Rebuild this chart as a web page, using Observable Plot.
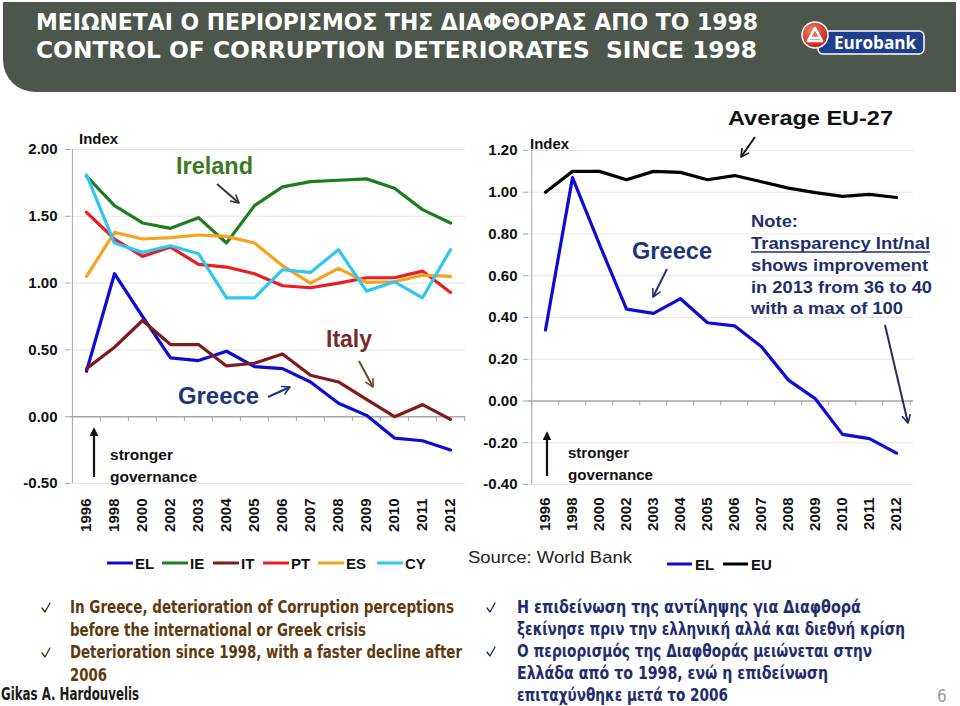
<!DOCTYPE html>
<html><head><meta charset="utf-8">
<script src="https://cdn.jsdelivr.net/npm/d3@7"></script>
<script src="https://cdn.jsdelivr.net/npm/@observablehq/plot@0.6"></script>
<style>
html,body{margin:0;padding:0;background:#fff;}
#page{position:relative;width:960px;height:706px;overflow:hidden;background:#fff;}
#hdr{position:absolute;left:3px;top:2px;width:953px;height:90px;background:#4c564c;border-bottom-left-radius:32px;}
.chart{position:absolute;top:100px;}
#left{left:0;} #right{left:470px;}
.chart svg{overflow:visible;background:transparent;}
.chart svg text{font-family:"Liberation Sans",Arial,sans-serif;font-weight:bold;font-size:15px;fill:#111;}
.chart g[aria-label="y-axis tick"] path,.chart g[aria-label="y-axis"] line{stroke:#a6a6a6;}
#ov{position:absolute;left:0;top:0;pointer-events:none;}
</style></head>
<body><div id="page"><div id="hdr"></div><div id="left" class="chart"></div><div id="right" class="chart"></div><svg id="ov" width="960" height="706"></svg></div>
<script>
// ---------- data ----------
const years = ["1996","1998","2000","2002","2003","2004","2005","2006","2007","2008","2009","2010","2011","2012"];
const seriesNames = ["EL","IE","IT","PT","ES","CY"];
const seriesColors = ["#0c0cd2","#1e7d1e","#7e1c1c","#ea1c24","#f6a21e","#2fc6ef"];
const EL = [0.34, 1.07, 0.75, 0.44, 0.42, 0.49, 0.375, 0.36, 0.26, 0.10, 0.01, -0.16, -0.18, -0.25];
const IE = [1.80, 1.58, 1.45, 1.41, 1.49, 1.30, 1.58, 1.72, 1.76, 1.77, 1.78, 1.71, 1.55, 1.45];
const IT = [0.36, 0.52, 0.72, 0.54, 0.54, 0.38, 0.40, 0.47, 0.31, 0.26, 0.13, 0.00, 0.09, -0.02];
const PT = [1.53, 1.33, 1.20, 1.27, 1.14, 1.12, 1.07, 0.98, 0.965, 1.00, 1.04, 1.04, 1.09, 0.93];
const ES = [1.05, 1.38, 1.33, 1.34, 1.36, 1.35, 1.30, 1.13, 1.00, 1.11, 1.005, 1.01, 1.06, 1.05];
const CY = [1.81, 1.30, 1.23, 1.28, 1.22, 0.89, 0.89, 1.10, 1.08, 1.25, 0.94, 1.01, 0.89, 1.25];
const EU = [1.00, 1.10, 1.10, 1.06, 1.10, 1.095, 1.06, 1.08, 1.05, 1.02, 0.998, 0.98, 0.99, 0.975];
const rightNames = ["EL","EU"];
const rightColors = ["#0c0cd2","#000000"];
const yTicksLeft = [-0.5, 0, 0.5, 1.0, 1.5, 2.0];
const yTicksRight = [-0.4, -0.2, 0, 0.2, 0.4, 0.6, 0.8, 1.0, 1.2];

const leftValues = [EL, IE, IT, PT, ES, CY];
const rightValues = [EL, EU];
const leftRows = seriesNames.flatMap((n,k)=>years.map((yr,i)=>({year:yr,value:leftValues[k][i],series:n})));
const rightRows = rightNames.flatMap((n,k)=>years.map((yr,i)=>({year:yr,value:rightValues[k][i],series:n})));

function chart(o){
  const step = (o.width - o.mL - o.mR)/years.length;
  const last = years[years.length-1];
  const dom = [o.ticks[0], o.ticks[o.ticks.length-1]];
  return Plot.plot({
    width:o.width, height:o.height, marginLeft:o.mL, marginRight:o.mR, marginTop:o.mT, marginBottom:o.mB,
    style:{background:"transparent",overflow:"visible",fontFamily:"Liberation Sans, Arial, sans-serif",fontSize:"15px",fontWeight:"bold",color:"#111"},
    x:{type:"point",domain:years,padding:0.5,tickRotate:-90,tickSize:0,tickPadding:o.xPad,label:null},
    y:{domain:dom,ticks:o.ticks,tickFormat:d=>d.toFixed(2),tickSize:5,tickPadding:o.yPad,label:null},
    color:{domain:o.names,range:o.colors},
    marks:[
      Plot.ruleY(o.ticks.filter(d=>d!==0),{stroke:"#e6e6e6",strokeWidth:1}),
      Plot.ruleY([0],{stroke:"#a6a6a6",strokeWidth:1.5}),
      Plot.ruleX(years,{x:d=>d,y1:0,y2:-o.tickLen,dx:-step/2,stroke:"#a6a6a6"}),
      Plot.ruleX([last],{x:d=>d,y1:0,y2:-o.tickLen,dx:step/2,stroke:"#a6a6a6"}),
      Plot.ruleX([years[0]],{x:d=>d,y1:dom[0],y2:dom[1],dx:-step/2,stroke:"#a6a6a6"}),
      Plot.line(o.rows,{x:"year",y:"value",z:"series",stroke:"series",strokeWidth:3.2,strokeLinejoin:"round",strokeLinecap:"round"})
    ]
  });
}
document.getElementById("left").append(chart({rows:leftRows,names:seriesNames,colors:seriesColors,ticks:yTicksLeft,
  width:470,height:440,mL:70,mR:5,mT:49,mB:57,xPad:15,yPad:8,tickLen:0.036}));
document.getElementById("right").append(chart({rows:rightRows,names:rightNames,colors:rightColors,ticks:yTicksRight,
  width:480,height:440,mL:58,mR:37,mT:50,mB:56,xPad:13,yPad:6,tickLen:0.024}));

// ---------- overlay: titles, annotations, legends, text ----------
const SANS = "Liberation Sans, Arial, sans-serif";
const NARROW = "Liberation Sans Narrow, DejaVu Sans Condensed, Liberation Sans, sans-serif";
const ov = d3.select("#ov");
const defs = ov.append("defs");
let mk = 0;
function marker(color, filled){
  const id = "m"+(mk++);
  const m = defs.append("marker").attr("id",id).attr("viewBox","0 0 10 10").attr("refX",filled?8:8.5).attr("refY",5)
    .attr("markerWidth",filled?4:5).attr("markerHeight",filled?4:5).attr("orient","auto").attr("markerUnits","strokeWidth");
  if (filled) m.append("path").attr("d","M0,0L10,5L0,10Z").attr("fill",color);
  else m.append("path").attr("d","M1,1L8.5,5L1,9").attr("fill","none").attr("stroke",color).attr("stroke-width",1.6).attr("stroke-linecap","round").attr("stroke-linejoin","round");
  return id;
}
function arrow(x1,y1,x2,y2,color,w,filled){
  ov.append("line").attr("x1",x1).attr("y1",y1).attr("x2",x2).attr("y2",y2).attr("stroke",color).attr("stroke-width",w)
    .attr("marker-end",`url(#${marker(color,filled)})`);
}
function txt(x,y,s,o){
  const t = ov.append("text").attr("x",x).attr("y",y).text(s)
    .attr("font-family",o.family||SANS).attr("font-size",o.size).attr("font-weight",o.weight||"bold")
    .attr("fill",o.color||"#111").attr("text-anchor",o.anchor||"start").style("white-space","pre");
  if (o.len) t.attr("textLength",o.len).attr("lengthAdjust","spacingAndGlyphs");
  return t;
}
function check(x,y,color){
  ov.append("path").attr("d",`M${x},${y-4} L${x+3},${y} L${x+8},${y-9}`).attr("fill","none")
    .attr("stroke",color).attr("stroke-width",1.3).attr("stroke-linecap","round").attr("stroke-linejoin","round");
}

// header title
txt(36,30,"ΜΕΙΩΝΕΤΑΙ Ο ΠΕΡΙΟΡΙΣΜΟΣ ΤΗΣ ΔΙΑΦΘΟΡΑΣ ΑΠΟ ΤΟ 1998",{size:23,color:"#fff",family:NARROW,len:722});
txt(36,58,"CONTROL OF CORRUPTION DETERIORATES  SINCE 1998",{size:23,color:"#fff",family:NARROW,len:721});

// logo
const grad = defs.append("radialGradient").attr("id","lg").attr("cx","40%").attr("cy","35%").attr("r","65%");
grad.append("stop").attr("offset","0%").attr("stop-color","#f3826a");
grad.append("stop").attr("offset","100%").attr("stop-color","#c2221b");
ov.append("rect").attr("x",818).attr("y",31).attr("width",106).attr("height",23).attr("rx",5).attr("fill","#1d3f8e").attr("stroke","#fff").attr("stroke-width",1.5);
txt(834,49,"Eurobank",{size:18,color:"#fff",len:82,weight:"bold",family:"Open Sans, Liberation Sans, sans-serif"});
ov.append("circle").attr("cx",815).attr("cy",35).attr("r",13).attr("fill","url(#lg)").attr("stroke","#fff").attr("stroke-width",1.5);
ov.append("path").attr("d","M808,41 L815,28 L822,41 Z M811,38 L819,38").attr("fill","none").attr("stroke","#fff").attr("stroke-width",2.6).attr("stroke-linejoin","round");

// left chart annotations
txt(79,144,"Index",{size:15,len:39});
txt(176,174,"Ireland",{size:24,color:"#3a7a22",len:77});
arrow(217,184,239,203,"#333a2c",2);
txt(326,347,"Italy",{size:24,color:"#7a2a2a",len:46});
arrow(359,361,373,387,"#6b4a2a",2);
txt(178,404,"Greece",{size:24,color:"#1f3579",len:81});
arrow(268,397,290,387,"#1f3579",2);
arrow(94,477,94,429,"#111",2.2,true);
txt(110,460,"stronger",{size:15,len:63});
txt(110,482,"governance",{size:15,len:87});

// right chart annotations
txt(728,125,"Average EU-27",{size:21,len:165});
arrow(755,137,741,157,"#111",2);
txt(530,149,"Index",{size:15,len:39});
txt(632,259,"Greece",{size:24,color:"#1f3579",len:80});
arrow(667,269,653,297,"#1f3579",2);
const NOTE = "#1f2f6b";
txt(751,227,"Note:",{size:17,color:NOTE,len:47});
txt(751,249,"Transparency Int/nal",{size:17,color:NOTE,len:179});
ov.append("line").attr("x1",751).attr("x2",930).attr("y1",252).attr("y2",252).attr("stroke",NOTE).attr("stroke-width",1.5);
txt(751,271,"shows improvement",{size:17,color:NOTE,len:177});
txt(751,293,"in 2013 from 36 to 40",{size:17,color:NOTE,len:181});
txt(751,314,"with a max of 100",{size:17,color:NOTE,len:152});
arrow(885,325,908,423,"#1f2f5f",2);
arrow(547,476,547,433,"#111",2.2,true);
txt(568,458,"stronger",{size:15,len:61});
txt(568,480,"governance",{size:15,len:85});

// legends
const legLeftX = [107,162,213,263,318,377];
seriesNames.forEach((n,i)=>{
  const x = legLeftX[i];
  ov.append("line").attr("x1",x).attr("x2",x+26).attr("y1",563).attr("y2",563).attr("stroke",seriesColors[i]).attr("stroke-width",3);
  txt(x+28,569,n,{size:15});
});
const legRightX = [667,723];
rightNames.forEach((n,i)=>{
  const x = legRightX[i];
  ov.append("line").attr("x1",x).attr("x2",x+25).attr("y1",564).attr("y2",564).attr("stroke",rightColors[i]).attr("stroke-width",3);
  txt(x+28,570,n,{size:15});
});
txt(468,563,"Source: World Bank",{size:17,weight:"normal",color:"#222",len:164});

// bullets
const BROWN = "#5e3a0f", NAVY = "#1f2d6e";
const leftLines = [
  ["In Greece, deterioration of Corruption perceptions",613,384,true],
  ["before the international or Greek crisis",636,296,false],
  ["Deterioration since 1998, with a faster decline after",658,392,true],
  ["2006",681,37,false]];
leftLines.forEach(([s,y,len,chk])=>{
  if (chk) check(42,y-1,"#3a2a10");
  txt(70,y,s,{size:17,color:BROWN,family:NARROW,len});
});
txt(1,700,"Gikas A. Hardouvelis",{size:17,color:"#1a1a1a",family:NARROW,len:138});
const rightLines = [
  ["Η επιδείνωση της αντίληψης για Διαφθορά",613,344,true],
  ["ξεκίνησε πριν την ελληνική αλλά και διεθνή κρίση",635,388,false],
  ["Ο περιορισμός της Διαφθοράς μειώνεται στην",657,355,true],
  ["Ελλάδα από το 1998, ενώ η επιδείνωση",679,311,false],
  ["επιταχύνθηκε μετά το 2006",701,211,false]];
rightLines.forEach(([s,y,len,chk])=>{
  if (chk) check(487,y-1,"#1c2a5a");
  txt(517,y,s,{size:17,color:NAVY,family:NARROW,len});
});
txt(937,702,"6",{size:17,weight:"normal",color:"#9a9a9a",family:NARROW});
</script>
</body></html>
